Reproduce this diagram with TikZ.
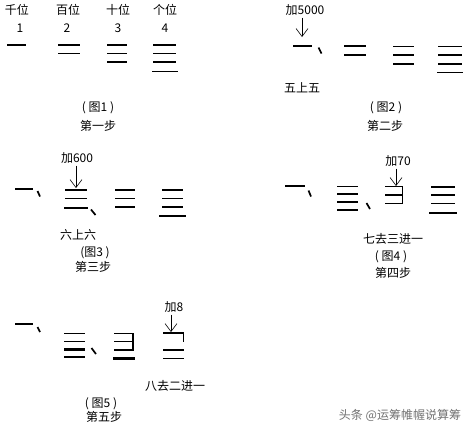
\documentclass[tikz,border=0pt]{standalone}
\usepackage{fontspec}
\setmainfont{Noto Sans CJK SC}
\usetikzlibrary{arrows.meta}
\tikzset{
  lbl/.style={inner sep=0pt, font=\fontsize{12}{13}\selectfont},
  rod/.style={line width=1.2pt},
  thickrod/.style={line width=2.8pt},
  dun/.style={line width=1.7pt},
  arr/.style={line width=0.6pt, -{Straight Barb[length=8pt,width=12pt]}},
  wm/.style={inner sep=0pt, font=\fontsize{12}{13}\selectfont, text=black!55}
}
\begin{document}
\begin{tikzpicture}[x=1pt,y=-1pt]
\useasboundingbox (0,0) rectangle (471,431);
\fill[white] (0,0) rectangle (471,431);
% ---- panel 1
\node[lbl] (h1) at (17,10) {千位};
\node[lbl] (h2) at (68,10) {百位};
\node[lbl] (h3) at (118,10) {十位};
\node[lbl] (h4) at (165,10) {个位};
\node[lbl] (n1) at (20,28) {1};
\node[lbl] (n2) at (67,28) {2};
\node[lbl] (n3) at (118,28) {3};
\node[lbl] (n4) at (165,28) {4};
\draw[rod] (7,45) -- (26,45);
\draw[rod] (58,45) -- (80,45) (58,53.5) -- (80,53.5);
\draw[rod] (107,45) -- (127,45) (107,53.5) -- (127,53.5) (107,62) -- (127,62);
\draw[rod] (153,45) -- (176,45) (153,53.5) -- (176,53.5) (153,62) -- (176,62) (152,71.5) -- (178,71.5);
\node[lbl] (f1) at (98,108) {( 图1 )};
\node[lbl] (s1) at (98,126) {第一步};
% ---- panel 2
\node[lbl] (a2) at (305,10) {加5000};
\coordinate (a2e) at (302,37);
\draw[arr] (a2.south -| a2e) ++(0,2) -- (a2e);
\draw[rod] (293,46) -- (312,46);
\draw[dun] (318.5,47.5) -- (321.5,53.5);
\draw[rod] (344,46) -- (366,46) (344,55) -- (366,55);
\draw[rod] (393,46.5) -- (414,46.5) (393,55) -- (414,55) (393,64) -- (414,64);
\draw[rod] (438,46.5) -- (462,46.5) (438,55) -- (462,55) (438,64) -- (462,64) (437,72.5) -- (463,72.5);
\node[lbl] (t2) at (302,88) {五上五};
\node[lbl] (f2) at (386,108) {( 图2 )};
\node[lbl] (s2) at (385,126) {第二步};
% ---- panel 3
\node[lbl] (a3) at (77,158) {加600};
\coordinate (a3e) at (76,188);
\draw[arr] (a3.south -| a3e) ++(0,2) -- (a3e);
\draw[rod] (15,189) -- (33,189);
\draw[dun] (37.5,191) -- (40,196.5);
\draw[rod] (65,190) -- (87,190) (65,198.5) -- (87,198.5);
\draw[thickrod] (64,208) -- (88,208);
\draw[dun] (91,209.5) -- (95.5,215);
\draw[rod] (115,190) -- (135,190) (115,198.5) -- (135,198.5) (115,207) -- (135,207);
\draw[rod] (162,190) -- (183,190) (162,198.5) -- (183,198.5) (162,207) -- (183,207) (159,216) -- (186,216);
\node[lbl] (t3) at (78,235) {六上六};
\node[lbl] (f3) at (95,253) {(图3 )};
\node[lbl] (s3) at (93,267) {第三步};
% ---- panel 4
\node[lbl] (a4) at (398,161) {加70};
\coordinate (a4e) at (396,186);
\draw[arr] (a4.south -| a4e) ++(0,2) -- (a4e);
\draw[rod] (285,186) -- (305,186);
\draw[dun] (308.5,190.5) -- (311,196.5);
\draw[rod] (337,186.5) -- (358,186.5) (337,194) -- (358,194);
\draw[thickrod] (337,202) -- (358,202) (337,210) -- (358,210);
\draw[dun] (366.5,203) -- (370,209);
\draw[rod] (385,186.5) -- (403,186.5) (385,195) -- (403,195) (385,203.5) -- (403,203.5);
\draw[line width=1.5pt] (402.5,186) -- (402.5,204);
\draw[rod] (431,187) -- (455,187) (431,195) -- (455,195) (431,203.5) -- (455,203.5) (429,213) -- (457,213);
\node[lbl] (t4) at (393,239) {七去三进一};
\node[lbl] (f4) at (391,257) {( 图4 )};
\node[lbl] (s4) at (393,273) {第四步};
% ---- panel 5
\node[lbl] (a5) at (174,307) {加8};
\coordinate (a5e) at (171,332);
\draw[arr] (a5.south -| a5e) ++(0,2) -- (a5e);
\draw[rod] (15,324) -- (33,324);
\draw[dun] (37.5,327) -- (40,332);
\draw[rod] (64,333.5) -- (85,333.5) (64,341.5) -- (85,341.5);
\draw[thickrod] (64,349.5) -- (85,349.5) (64,357) -- (85,357);
\draw[dun] (91.5,348) -- (96,354);
\draw[rod] (114,333.5) -- (133,333.5) (114,341.5) -- (133,341.5) (114,350) -- (133,350);
\draw[line width=1.5pt] (133,333) -- (133,350.5);
\draw[thickrod] (113,358.5) -- (135,358.5);
\draw[rod] (163,333) -- (184,333);
\draw[line width=1.5pt] (183.5,332.5) -- (183.5,342);
\draw[rod] (163,350) -- (184,350) (163,358.5) -- (184,358.5);
\node[lbl] (t5) at (175,386) {八去二进一};
\node[lbl] (f5) at (101,404) {( 图5 )};
\node[lbl] (s5) at (104,417) {第五步};
% ---- watermark
\node[wm] (wm) at (400,415) {头条 @运筹帷幄说算筹};
\end{tikzpicture}
\end{document}
